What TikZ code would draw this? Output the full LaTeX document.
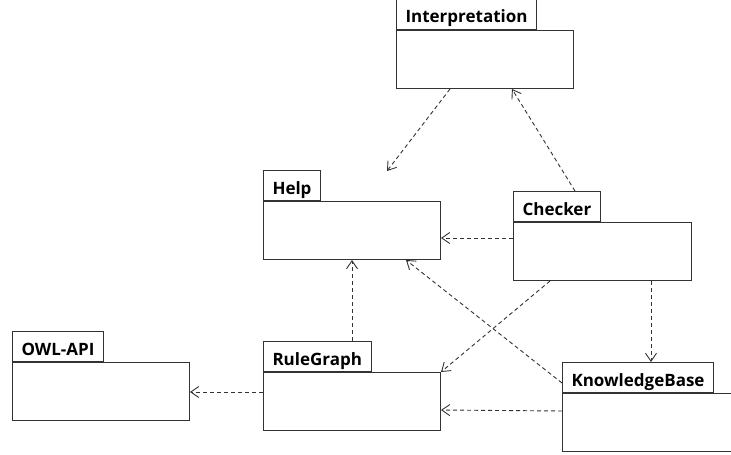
\documentclass[tikz,border=0pt]{standalone}
\usepackage{fontspec}
\setmainfont{Open Sans}
\usetikzlibrary{arrows.meta}

\tikzset{
  pkg/.style={draw=black!80, line width=1pt, minimum width=177pt, minimum height=58pt,
    anchor=north west, inner sep=0pt},
  pkgtab/.style={draw=black!80, line width=1pt, anchor=south west,
    font=\bfseries\fontsize{17}{17}\selectfont, text height=17pt, text depth=0pt,
    inner ysep=6.5pt, inner xsep=9pt},
  dep/.style={draw=black!80, line width=0.9pt, dash pattern=on 4pt off 3pt,
    -{Straight Barb[length=8pt,width=11pt]}}
}

\begin{document}
\begin{tikzpicture}[x=1pt,y=-1pt]
      \useasboundingbox (0,0) rectangle (731,455);
      \clip (0,0) rectangle (731,455);

      \node[pkg] (interp) at (396,30) {};
      \node[pkgtab] (interptab) at (interp.north west) {Interpretation};
      \node[pkg] (help) at (263,201) {};
      \node[pkgtab] (helptab) at (help.north west) {Help};
      \node[pkg, minimum width=178pt] (checker) at (513,222) {};
      \node[pkgtab] (checkertab) at (checker.north west) {Checker};
      \node[pkg] (owlapi) at (12,362) {};
      \node[pkgtab] (owlapitab) at (owlapi.north west) {OWL-API};
      \node[pkg] (rulegraph) at (263,372) {};
      \node[pkgtab] (rulegraphtab) at (rulegraph.north west) {RuleGraph};
      \node[pkg] (kb) at (562,393) {};
      \node[pkgtab] (kbtab) at (kb.north west) {KnowledgeBase};

      \coordinate (helpin) at (387,171);

      \draw[dep] ([xshift=54pt]interp.south west) -- (helpin);
      \draw[dep] ([xshift=62pt]checkertab.north west) -- ([xshift=116pt]interp.south west);
      \draw[dep] ([yshift=-16pt]checker.north west) -- ([yshift=-16pt]checker.north west -| help.east);
      \draw[dep] ([xshift=89pt]rulegraphtab.north west) -- ([xshift=89pt]help.south west);
      \draw[dep] ([yshift=-21pt]kbtab.north west) -- ([xshift=143pt]help.south west);
      \draw[dep] ([xshift=37pt]checker.south west) -- (rulegraph.north east);
      \draw[dep] ([xshift=138pt]checker.south west) -- ([xshift=89pt]kbtab.north west);
      \draw[dep] ([yshift=-20pt]rulegraph.north west) -- ([yshift=-30pt]owlapi.north east);
      \draw[dep] ([yshift=-18pt]kb.north west) -- ([yshift=-38pt]rulegraph.north east);
\end{tikzpicture}
\end{document}
